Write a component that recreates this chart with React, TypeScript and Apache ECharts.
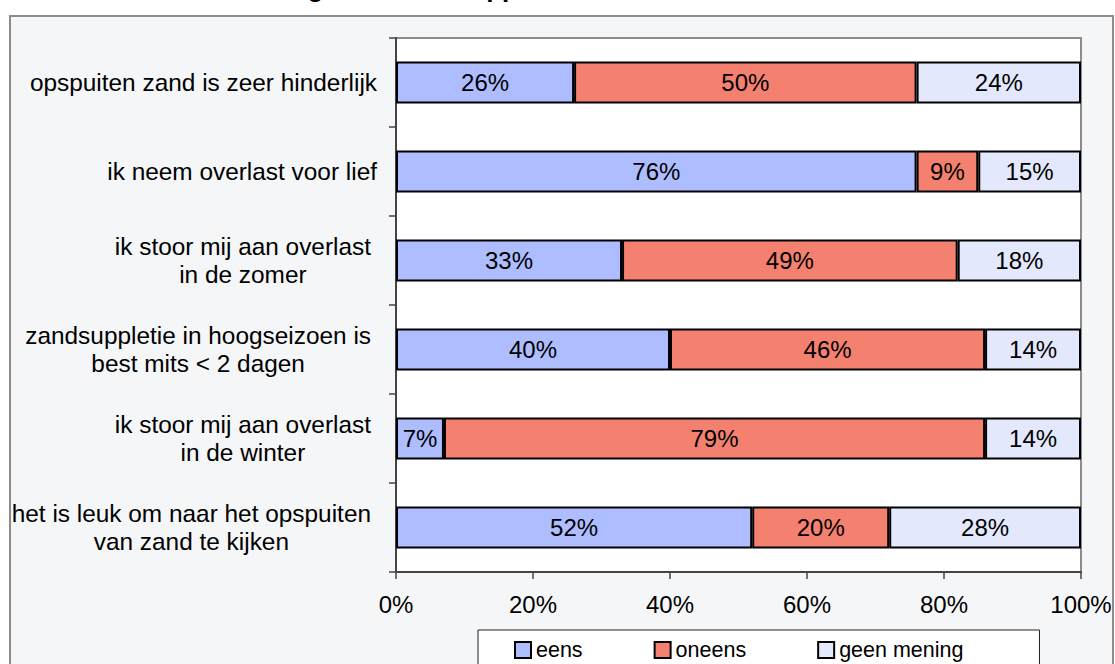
import React, { useEffect, useRef } from "react";
import * as echarts from "echarts";

const categories = [
  "opspuiten zand is zeer hinderlijk",
  "ik neem overlast voor lief",
  "ik stoor mij aan overlast\nin de zomer",
  "zandsuppletie in hoogseizoen is\nbest mits < 2 dagen",
  "ik stoor mij aan overlast\nin de winter",
  "het is leuk om naar het opspuiten\nvan zand te kijken",
];
const seriesNames = ["eens", "oneens", "geen mening"];
const eens = [26, 76, 33, 40, 7, 52];
const oneens = [50, 9, 49, 46, 79, 20];
const geenMening = [24, 15, 18, 14, 14, 28];
const xTicks = [0, 20, 40, 60, 80, 100];
const titleText = "Houding t.o.v. zandsuppletie";

const colors = ["#aebdff", "#f4806f", "#e3e8fc"];
const FONT = "'Liberation Sans', Arial, sans-serif";

export default function App() {
  const ref = useRef<HTMLDivElement>(null);
  useEffect(() => {
    if (!ref.current) return;
    const chart = echarts.init(ref.current, undefined, { renderer: "svg" });
    const values = [eens, oneens, geenMening];
    const option: any = {
      animation: false,
      backgroundColor: "#ffffff",
      textStyle: { fontFamily: FONT, color: "#000" },
      graphic: [
        {
          type: "rect",
          z: -10,
          shape: { x: 10, y: 16, width: 1103, height: 700 },
          style: { fill: "#f5f6f8", stroke: "#8c8c8c", lineWidth: 2 },
        },
        {
          type: "text",
          z: -5,
          x: 218,
          y: -12,
          style: {
            text: titleText,
            fontFamily: FONT,
            fontWeight: "bold",
            fontSize: 26,
            fill: "#000",
            textAlign: "left",
            textVerticalAlign: "middle",
          },
        },
      ],
      grid: {
        left: 396,
        right: 34,
        top: 38,
        bottom: 92,
        show: true,
        backgroundColor: "#ffffff",
        borderColor: "#8c8c8c",
        borderWidth: 2,
      },
      legend: {
        left: 478,
        top: 630,
        orient: "horizontal",
        data: seriesNames,
        itemWidth: 16,
        itemHeight: 16,
        itemGap: 71,
        padding: [9, 76, 12, 36],
        backgroundColor: "#ffffff",
        borderColor: "#222",
        borderWidth: 1,
        textStyle: { fontSize: 21.5, color: "#000", fontFamily: FONT },
        icon: "rect",
      },
      xAxis: {
        type: "value",
        min: xTicks[0],
        max: xTicks[xTicks.length - 1],
        interval: xTicks[1] - xTicks[0],
        axisLine: { show: true, lineStyle: { color: "#444", width: 2 } },
        axisTick: { show: true, length: 7, lineStyle: { color: "#444", width: 1.5 } },
        splitLine: { show: false },
        axisLabel: {
          formatter: "{value}%",
          fontSize: 24,
          color: "#000",
          margin: 20,
          fontFamily: FONT,
        },
      },
      yAxis: {
        type: "category",
        inverse: true,
        data: categories,
        axisLine: { show: true, lineStyle: { color: "#444", width: 2 } },
        axisTick: { show: true, length: 7, lineStyle: { color: "#444", width: 1.5 } },
        axisLabel: {
          margin: 19,
          fontSize: 24.4,
          color: "#000",
          fontFamily: FONT,
          formatter: (v: string) => {
            const lines = v.split("\n");
            if (lines.length === 1) return `{s|${v}}`;
            return lines.map((l) => `{m|${l}}`).join("\n");
          },
          rich: {
            s: { fontSize: 24.4, lineHeight: 28, color: "#000", fontFamily: FONT },
            m: {
              fontSize: 24.4,
              lineHeight: 28,
              color: "#000",
              align: "center",
              padding: [0, 6, 0, 0],
              fontFamily: FONT,
            },
          },
        },
      },
      series: seriesNames.map((name, i) => ({
        name,
        type: "bar",
        stack: "total",
        barWidth: 42,
        data: values[i],
        itemStyle: { color: colors[i], borderColor: "#000", borderWidth: 2 },
        label: {
          show: true,
          position: "inside",
          formatter: "{c}%",
          fontSize: 24,
          color: "#000",
          fontFamily: FONT,
        },
      })),
    };
    chart.setOption(option);
    return () => chart.dispose();
  }, []);
  return (
    <div
      ref={ref}
      style={{ position: "fixed", left: 0, top: 0, width: 1115, height: 664 }}
    />
  );
}
